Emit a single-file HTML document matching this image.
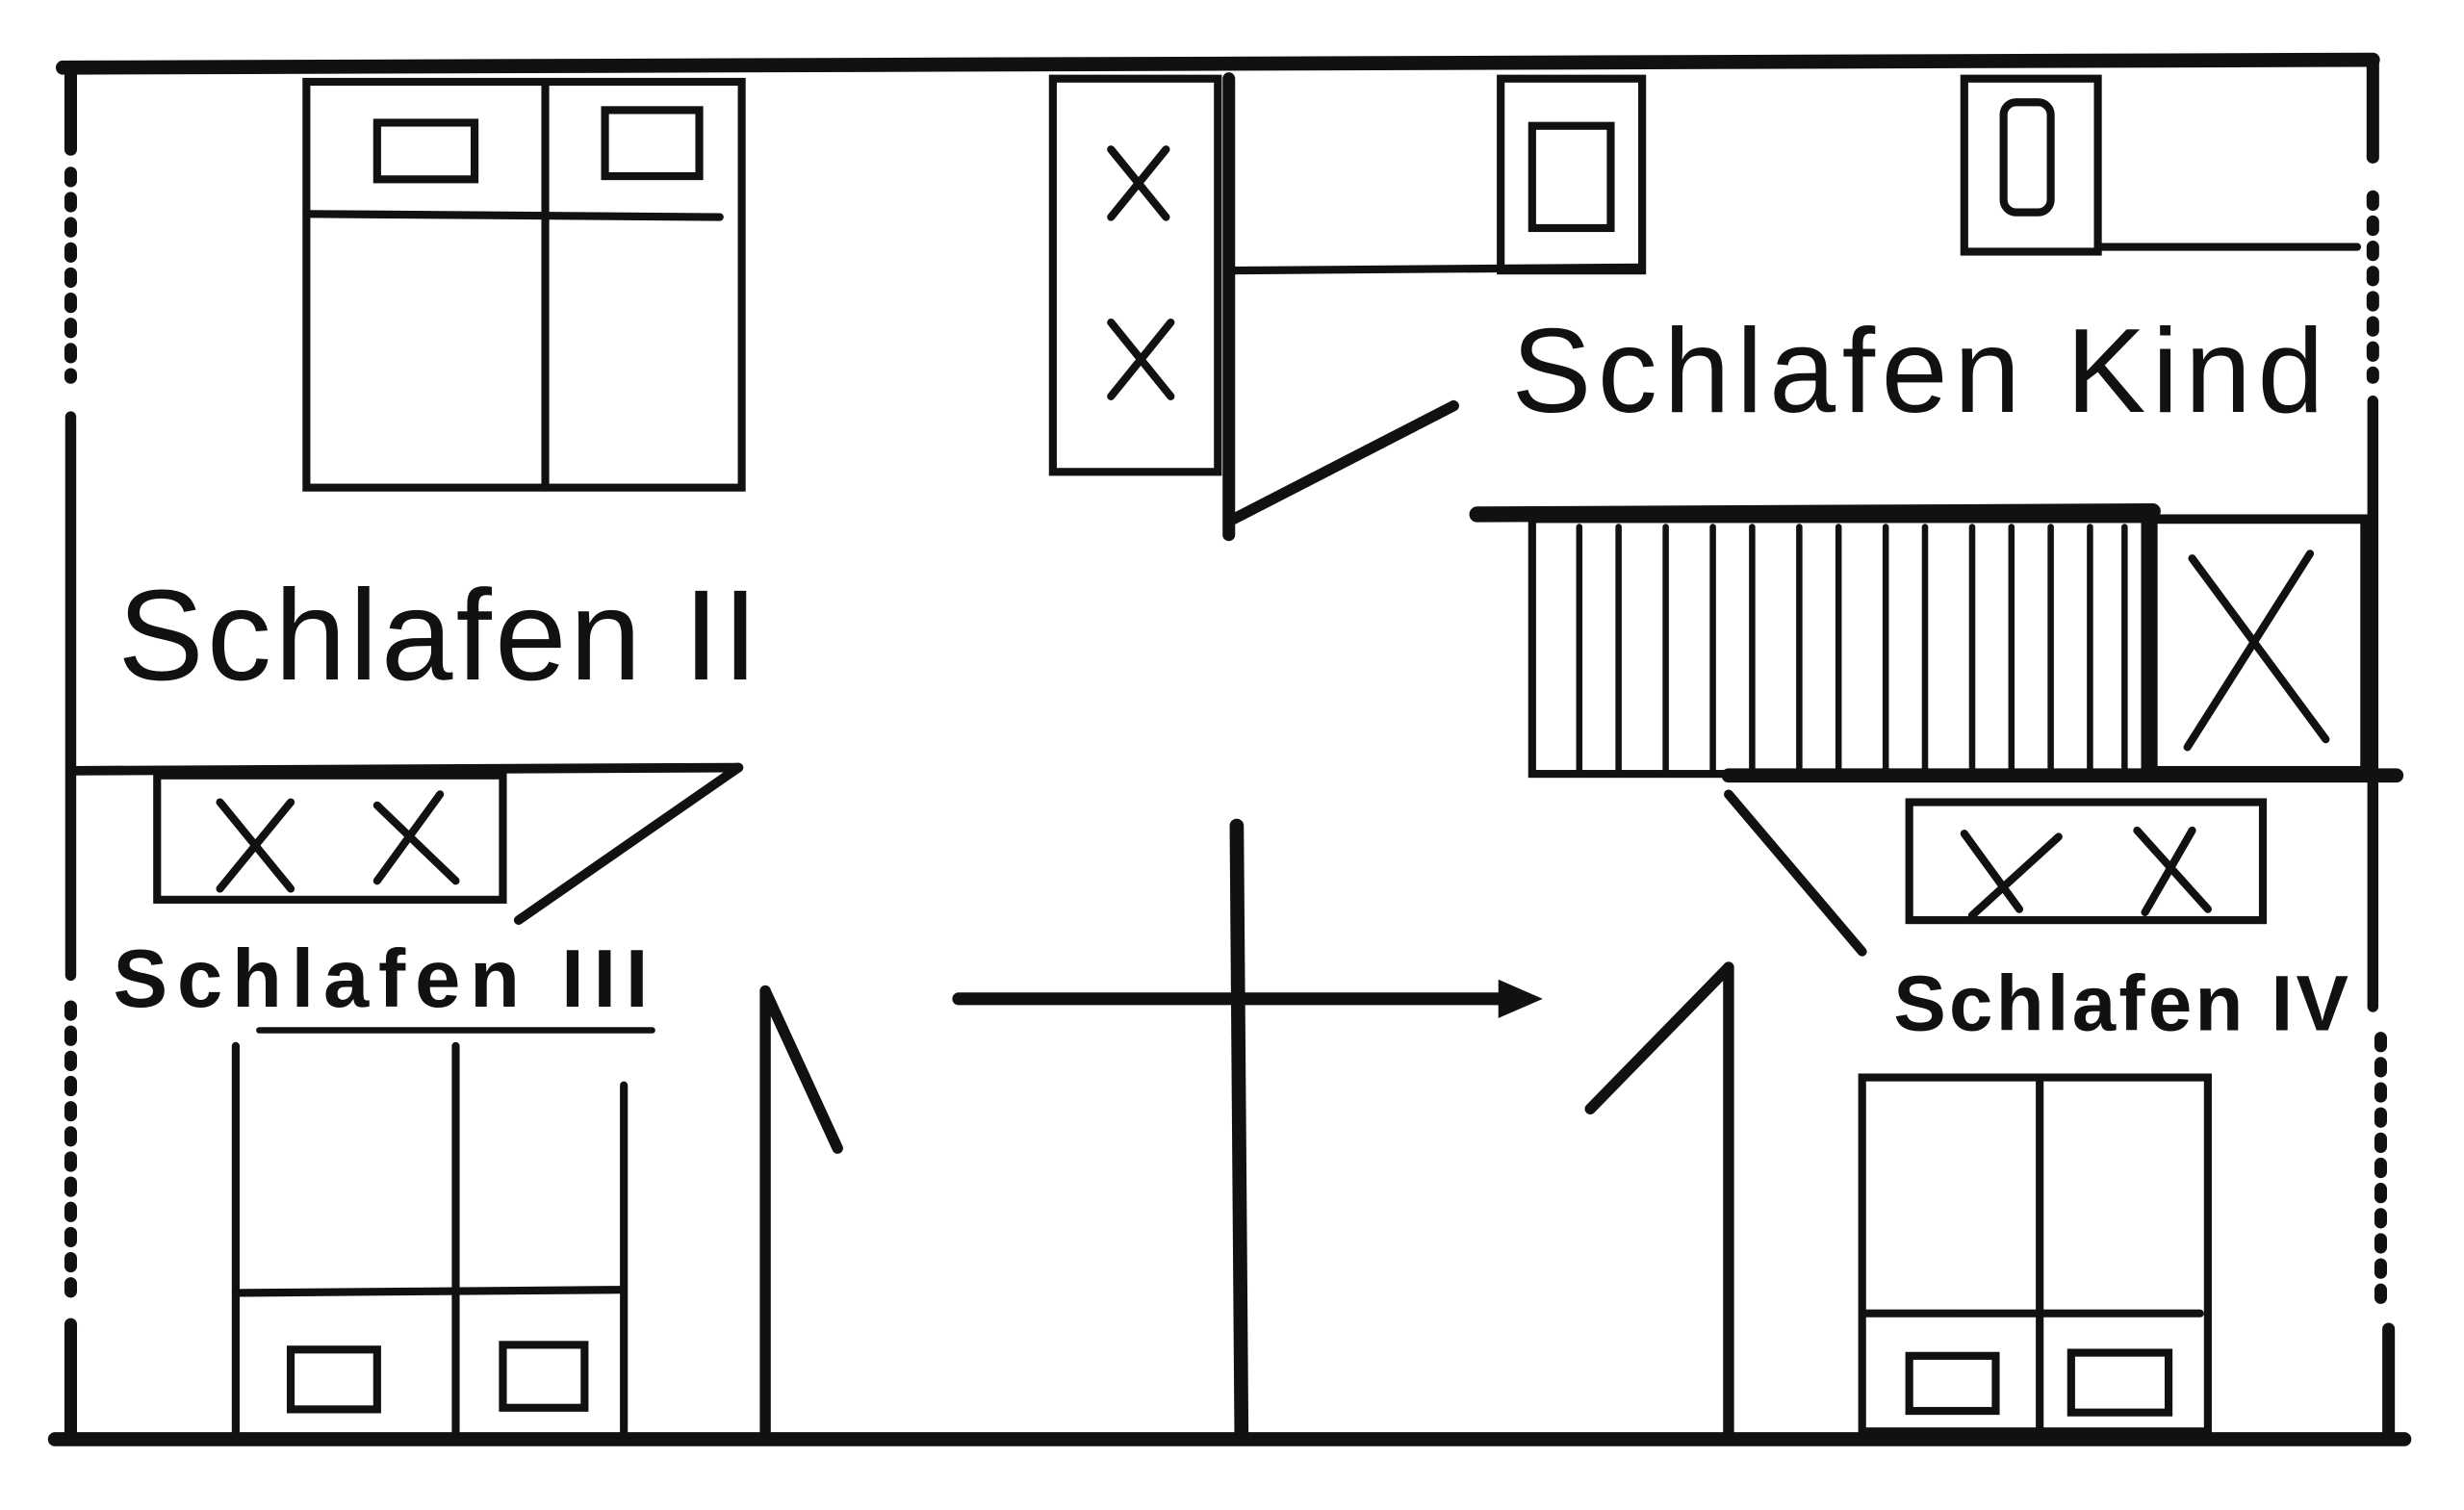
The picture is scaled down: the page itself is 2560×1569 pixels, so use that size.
<!DOCTYPE html>
<html><head><meta charset="utf-8"><style>
html,body{margin:0;padding:0;background:#fff;width:2560px;height:1569px;overflow:hidden}
svg{display:block}
text{font-family:"Liberation Sans",sans-serif;fill:#111}
</style></head><body>
<svg width="2560" height="1569" viewBox="0 0 1568 960" preserveAspectRatio="none">
<g stroke="#111" fill="none" stroke-linecap="round">
<line x1="40" y1="43" x2="1510" y2="38" stroke-width="9"/>
<line x1="35" y1="915" x2="1530" y2="915" stroke-width="9"/>
<line x1="45" y1="45" x2="45" y2="95" stroke-width="8"/>
<line x1="45" y1="110" x2="45" y2="240" stroke-width="8" stroke-dasharray="5,11"/>
<line x1="45" y1="265" x2="45" y2="620" stroke-width="7"/>
<line x1="45" y1="640" x2="45" y2="830" stroke-width="8" stroke-dasharray="5,11"/>
<line x1="45" y1="842" x2="45" y2="915" stroke-width="8"/>
<line x1="1510" y1="40" x2="1510" y2="100" stroke-width="8"/>
<line x1="1510" y1="125" x2="1510" y2="240" stroke-width="8" stroke-dasharray="5,11"/>
<line x1="1510" y1="255" x2="1510" y2="640" stroke-width="7"/>
<line x1="1515" y1="660" x2="1515" y2="830" stroke-width="8" stroke-dasharray="5,11"/>
<line x1="1520" y1="845" x2="1520" y2="915" stroke-width="8"/>
<rect x="195" y="52" width="277" height="258" stroke-width="5"/>
<line x1="347" y1="52" x2="347" y2="310" stroke-width="5"/>
<line x1="195" y1="136" x2="458" y2="138" stroke-width="5"/>
<rect x="240" y="78" width="62" height="36" stroke-width="5"/>
<rect x="385" y="70" width="60" height="42" stroke-width="5"/>
<line x1="45" y1="490" x2="470" y2="488" stroke-width="6"/>
<line x1="470" y1="488" x2="330" y2="585" stroke-width="6"/>
<rect x="100" y="493" width="220" height="79" stroke-width="5"/>
<path d="M140 510 L185 565 M185 510 L140 565 M240 512 L290 560 M280 505 L240 560" stroke-width="5"/>
<line x1="165" y1="655" x2="415" y2="655" stroke-width="4"/>
<line x1="150" y1="665" x2="150" y2="910" stroke-width="5"/>
<line x1="290" y1="665" x2="290" y2="910" stroke-width="5"/>
<line x1="397" y1="690" x2="397" y2="910" stroke-width="5"/>
<line x1="150" y1="822" x2="395" y2="820" stroke-width="5"/>
<rect x="185" y="858" width="55" height="38" stroke-width="5"/>
<rect x="320" y="855" width="52" height="40" stroke-width="5"/>
<line x1="487" y1="630" x2="487" y2="910" stroke-width="7"/>
<line x1="487" y1="630" x2="533" y2="730" stroke-width="7"/>
<line x1="1100" y1="615" x2="1100" y2="910" stroke-width="7"/>
<line x1="1100" y1="615" x2="1012" y2="705" stroke-width="7"/>
<line x1="787" y1="525" x2="790" y2="910" stroke-width="9"/>
<line x1="610" y1="635" x2="970" y2="635" stroke-width="8"/>
<path d="M955 625 L978 635 L955 645 Z" fill="#111" stroke-width="3"/>
<rect x="670" y="50" width="105" height="250" stroke-width="5"/>
<path d="M707 95 L742 138 M742 95 L707 138 M707 205 L745 252 M745 205 L707 252" stroke-width="5"/>
<line x1="782" y1="50" x2="782" y2="340" stroke-width="8"/>
<line x1="785" y1="330" x2="925" y2="258" stroke-width="7"/>
<line x1="782" y1="172" x2="1045" y2="170" stroke-width="5"/>
<rect x="955" y="50" width="90" height="122" stroke-width="5"/>
<rect x="975" y="80" width="50" height="65" stroke-width="5"/>
<rect x="1250" y="50" width="85" height="110" stroke-width="5"/>
<rect x="1275" y="65" width="30" height="70" rx="8" stroke-width="5"/>
<line x1="1335" y1="157" x2="1500" y2="157" stroke-width="5"/>
<line x1="940" y1="327" x2="1370" y2="325" stroke-width="10"/>
<rect x="975" y="330" width="390" height="162" stroke-width="5"/>
<g stroke-width="4">
<line x1="1005" y1="335" x2="1005" y2="490"/><line x1="1030" y1="335" x2="1030" y2="490"/>
<line x1="1060" y1="335" x2="1060" y2="490"/><line x1="1090" y1="335" x2="1090" y2="490"/>
<line x1="1115" y1="335" x2="1115" y2="490"/><line x1="1145" y1="335" x2="1145" y2="490"/>
<line x1="1170" y1="335" x2="1170" y2="490"/><line x1="1200" y1="335" x2="1200" y2="490"/>
<line x1="1225" y1="335" x2="1225" y2="490"/><line x1="1255" y1="335" x2="1255" y2="490"/>
<line x1="1280" y1="335" x2="1280" y2="490"/><line x1="1305" y1="335" x2="1305" y2="490"/>
<line x1="1330" y1="335" x2="1330" y2="490"/><line x1="1352" y1="335" x2="1352" y2="490"/>
</g>
<rect x="1370" y="330" width="135" height="160" stroke-width="6"/>
<path d="M1395 355 L1480 470 M1470 352 L1392 475" stroke-width="5"/>
<line x1="1100" y1="493" x2="1525" y2="493" stroke-width="9"/>
<line x1="1100" y1="505" x2="1185" y2="605" stroke-width="6"/>
<rect x="1215" y="510" width="225" height="75" stroke-width="5"/>
<path d="M1250 530 L1285 578 M1310 532 L1255 582 M1360 528 L1405 578 M1395 528 L1365 580" stroke-width="5"/>
<rect x="1185" y="685" width="220" height="225" stroke-width="5"/>
<line x1="1298" y1="688" x2="1298" y2="910" stroke-width="5"/>
<line x1="1188" y1="835" x2="1400" y2="835" stroke-width="5"/>
<rect x="1215" y="862" width="55" height="35" stroke-width="5"/>
<rect x="1318" y="860" width="62" height="38" stroke-width="5"/>
</g>
<text x="75" y="432" font-size="82" letter-spacing="2">Schlafen II</text>
<text x="72" y="640" font-size="52" font-weight="bold" letter-spacing="6">Schlafen III</text>
<text x="962" y="262" font-size="76" letter-spacing="4">Schlafen Kind</text>
<text x="1205" y="655" font-size="50" font-weight="bold" letter-spacing="2">Schlafen IV</text>
</svg>
</body></html>
